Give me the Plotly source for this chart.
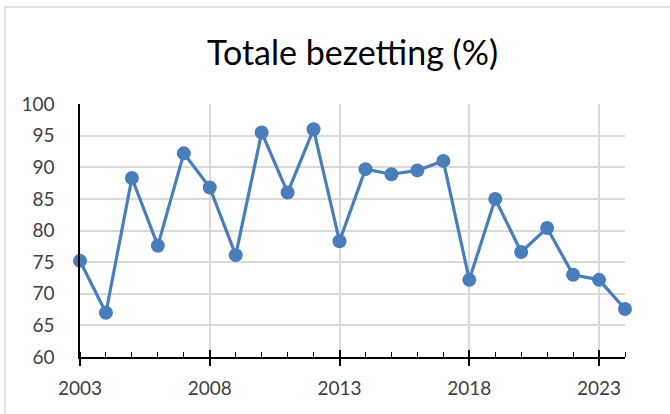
import plotly.graph_objects as go

years = list(range(2003, 2025))
occupancy = [75.2, 67.0, 88.3, 77.6, 92.2, 86.8, 76.1, 95.5, 86.0, 96.0, 78.3,
             89.7, 88.9, 89.5, 91.0, 72.2, 85.0, 76.6, 80.4, 73.0, 72.2, 67.6]
title_text = "Totale bezetting (%)"
major_years = [2003, 2008, 2013, 2018, 2023]

FONT = "Lato"
fig = go.Figure()
fig.add_trace(go.Scatter(
    x=years, y=occupancy, mode="lines+markers",
    line=dict(color="#4a7ebb", width=3.2),
    marker=dict(color="#4a7ebb", size=14),
    cliponaxis=False, showlegend=False, xaxis="x", yaxis="y",
))
# invisible trace on overlay axis for crossing major ticks
fig.add_trace(go.Scatter(x=[years[0], years[-1]], y=[60, 60], mode="lines",
                         line=dict(width=0), showlegend=False, hoverinfo="skip",
                         xaxis="x2", yaxis="y"))

fig.update_layout(
    width=670, height=414,
    margin=dict(l=80, r=45, t=104, b=57, autoexpand=False),
    paper_bgcolor="white", plot_bgcolor="white",
    title=dict(text=title_text, x=0.5, xref="paper", xanchor="center",
               y=1 - 53 / 414, yanchor="middle",
               font=dict(family=FONT, size=34, color="#000000")),
    xaxis=dict(range=[2003, 2024], tickmode="array", tickvals=major_years,
               ticktext=[str(v) for v in major_years],
               showgrid=True, gridcolor="#d9d9d9", gridwidth=1.5,
               showline=True, linecolor="#000000", linewidth=1.5,
               ticks="outside", ticklen=7, tickwidth=1.5, tickcolor="#000000",
               minor=dict(dtick=1, tick0=2003, ticks="inside", ticklen=5,
                          tickwidth=1.3, tickcolor="#000000", showgrid=False),
               ticklabelstandoff=6, automargin=False,
               tickfont=dict(family=FONT, size=19, color="#404040"),
               zeroline=False),
    xaxis2=dict(range=[2003, 2024], overlaying="x", matches="x", side="bottom",
                tickmode="array", tickvals=major_years, showticklabels=False,
                ticks="inside", ticklen=7, tickwidth=1.5, tickcolor="#000000",
                showgrid=False, showline=False, zeroline=False, automargin=False),
    yaxis=dict(range=[60, 100], dtick=5, tick0=60,
               showgrid=True, gridcolor="#d9d9d9", gridwidth=1.5,
               showline=True, linecolor="#000000", linewidth=1.5,
               ticks="", ticklabelstandoff=20, automargin=False,
               tickfont=dict(family=FONT, size=19, color="#404040"),
               zeroline=False),
    shapes=[dict(type="rect", xref="paper", yref="paper",
                 x0=-75 / 545, x1=700 / 545, y0=-100 / 253, y1=1 + 97 / 253,
                 line=dict(color="#d9d9d9", width=1.5), layer="below")],
)
fig.write_html("out.html", config={"displayModeBar": False},
               post_script="document.body.style.margin='0';")
